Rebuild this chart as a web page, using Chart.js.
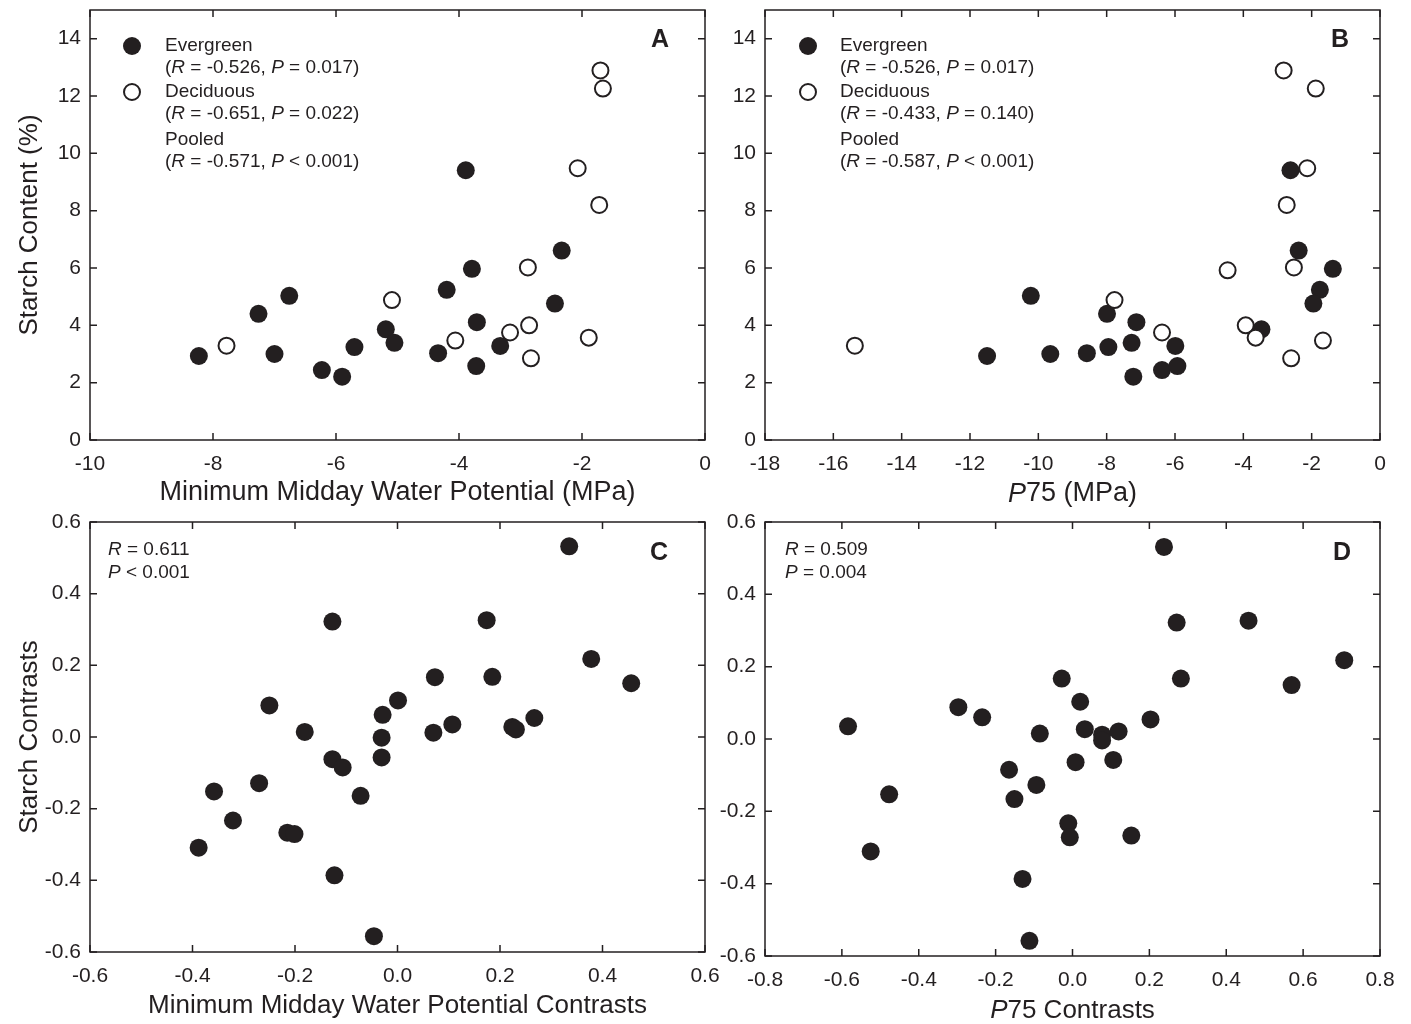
<!DOCTYPE html>
<html>
<head>
<meta charset="utf-8">
<script src="https://cdn.jsdelivr.net/npm/chart.js@4.4.0/dist/chart.umd.min.js"></script>
<style>
  body { margin: 0; background: #fff; }
  #wrap { position: relative; width: 1411px; height: 1024px; }
  #wrap canvas { position: absolute; left: 0; top: 0; }
</style>
</head>
<body>
<div id="wrap">
  <canvas id="panelA" width="1411" height="1024"></canvas>
  <canvas id="panelB" width="1411" height="1024"></canvas>
  <canvas id="panelC" width="1411" height="1024"></canvas>
  <canvas id="panelD" width="1411" height="1024"></canvas>
</div>
<script>
// species values (evergreen arrays line up species by species)
const evMinPsi = [-8.23, -7.26, -6.76, -7.00, -6.23, -5.90, -5.70, -5.19, -5.05, -4.34, -4.20, -3.89, -3.79, -3.71, -3.72, -3.33, -2.44, -2.33];
const evP75 = [-11.50, -7.99, -10.22, -9.65, -6.38, -7.22, -7.95, -3.47, -7.27, -8.58, -1.76, -2.62, -1.38, -7.13, -5.93, -5.99, -1.95, -2.38];
const evStarch = [2.93, 4.40, 5.03, 3.00, 2.44, 2.21, 3.24, 3.86, 3.39, 3.03, 5.24, 9.41, 5.97, 4.11, 2.58, 3.28, 4.76, 6.61];

const dcMinPsi = [-7.78, -5.09, -4.06, -3.17, -2.88, -2.86, -2.83, -2.07, -1.89, -1.72, -1.70, -1.66];
const dcStarchA = [3.29, 4.88, 3.47, 3.75, 6.02, 4.00, 2.85, 9.48, 3.57, 8.20, 12.89, 12.26];
const dcP75 = [-15.37, -7.77, -1.67, -6.38, -2.52, -3.93, -2.60, -2.13, -3.64, -2.73, -2.82, -1.88, -4.46];
const dcStarchB = [3.29, 4.88, 3.47, 3.75, 6.02, 4.00, 2.85, 9.48, 3.57, 8.20, 12.89, 12.26, 5.92];

// independent contrasts
const psiContrast = [-0.388, -0.358, -0.321, -0.270, -0.250, -0.215, -0.201, -0.181, -0.127, -0.127, -0.107, -0.123, -0.072, -0.046, -0.029, -0.031, -0.031, 0.001, 0.070, 0.073, 0.107, 0.174, 0.185, 0.224, 0.231, 0.267, 0.335, 0.378, 0.456];
const starchContrastC = [-0.309, -0.152, -0.233, -0.129, 0.088, -0.267, -0.271, 0.014, -0.062, 0.322, -0.085, -0.386, -0.164, -0.556, 0.062, -0.002, -0.057, 0.102, 0.012, 0.167, 0.035, 0.326, 0.168, 0.028, 0.021, 0.053, 0.532, 0.218, 0.150];
const p75Contrast = [-0.584, -0.477, -0.525, -0.297, -0.235, -0.165, -0.151, -0.085, -0.094, -0.130, -0.112, -0.028, 0.020, 0.032, 0.008, -0.011, -0.007, 0.077, 0.077, 0.120, 0.106, 0.153, 0.203, 0.238, 0.271, 0.282, 0.458, 0.570, 0.707];
const starchContrastD = [0.035, -0.153, -0.311, 0.088, 0.060, -0.085, -0.166, 0.015, -0.127, -0.387, -0.558, 0.167, 0.103, 0.027, -0.064, -0.233, -0.272, 0.012, -0.004, 0.021, -0.058, -0.267, 0.054, 0.531, 0.322, 0.167, 0.327, 0.149, 0.218];

// tick values
const psiTicks = [-10, -8, -6, -4, -2, 0];
const p75Ticks = [-18, -16, -14, -12, -10, -8, -6, -4, -2, 0];
const starchTicks = [0, 2, 4, 6, 8, 10, 12, 14];
const psiContrastTicks = [-0.6, -0.4, -0.2, 0.0, 0.2, 0.4, 0.6];
const p75ContrastTicks = [-0.8, -0.6, -0.4, -0.2, 0.0, 0.2, 0.4, 0.6, 0.8];
const contrastTicks = [-0.6, -0.4, -0.2, 0.0, 0.2, 0.4, 0.6];

const INK = '#231f20';
const FONT = '"Liberation Sans", Arial, sans-serif';
const TICK = 7;

Chart.defaults.font.family = FONT;
Chart.defaults.color = INK;

function pts(xs, ys) {
    return xs.map((v, i) => ({ x: v, y: ys[i] }));
}

function filled(data) {
    return { data: data, pointRadius: 9, pointBackgroundColor: INK, pointBorderColor: INK, pointBorderWidth: 0, order: 1 };
}

function hollow(data) {
    return { data: data, pointRadius: 8, pointBackgroundColor: '#fff', pointBorderColor: INK, pointBorderWidth: 2, order: 0 };
}

// draws pieces of text, some in italics, starting at x (or centred on it)
function rich(ctx, x, y, parts, size, align) {
    ctx.textBaseline = 'middle';
    ctx.textAlign = 'left';
    let total = 0;
    parts.forEach(p => {
        ctx.font = (p[1] ? 'italic ' : '') + size + 'px ' + FONT;
        total += ctx.measureText(p[0]).width;
    });
    let cx = align === 'center' ? x - total / 2 : x;
    parts.forEach(p => {
        ctx.font = (p[1] ? 'italic ' : '') + size + 'px ' + FONT;
        ctx.fillText(p[0], cx, y);
        cx += ctx.measureText(p[0]).width;
    });
}

function letter(ctx, txt, x, y) {
    ctx.font = 'bold 25px "Liberation Sans Narrow", ' + FONT;
    ctx.textAlign = 'center';
    ctx.textBaseline = 'middle';
    ctx.fillText(txt, x, y);
}

function legend(ctx, mx, tx, stats) {
    ctx.save();
    ctx.fillStyle = INK;
    ctx.strokeStyle = INK;
    ctx.beginPath();
    ctx.arc(mx, 46, 9, 0, Math.PI * 2);
    ctx.fill();
    ctx.lineWidth = 2;
    ctx.beginPath();
    ctx.arc(mx, 92, 8, 0, Math.PI * 2);
    ctx.stroke();
    const lines = [
        [46, 'Evergreen', null], [68, null, stats[0]],
        [92, 'Deciduous', null], [114, null, stats[1]],
        [140, 'Pooled', null], [162, null, stats[2]]
    ];
    lines.forEach(l => {
        if (l[1]) rich(ctx, tx, l[0], [[l[1], false]], 19);
        else rich(ctx, tx, l[0], [['(', false], ['R', true], [' = ' + l[2][0] + ', ', false], ['P', true], [l[2][1] + ')', false]], 19);
    });
    ctx.restore();
}

const framePlugin = {
    id: 'frame',
    afterDraw(chart) {
        const { ctx, chartArea, scales } = chart;
        const { left, right, top, bottom } = chartArea;
        ctx.save();
        ctx.strokeStyle = INK;
        ctx.lineWidth = 1.5;
        ctx.strokeRect(left, top, right - left, bottom - top);
        ctx.beginPath();
        scales.x.ticks.forEach(t => {
            const px = scales.x.getPixelForValue(t.value);
            ctx.moveTo(px, bottom); ctx.lineTo(px, bottom - TICK);
            ctx.moveTo(px, top); ctx.lineTo(px, top + TICK);
        });
        scales.y.ticks.forEach(t => {
            const py = scales.y.getPixelForValue(t.value);
            ctx.moveTo(left, py); ctx.lineTo(left + TICK, py);
            ctx.moveTo(right, py); ctx.lineTo(right - TICK, py);
        });
        ctx.stroke();
        ctx.restore();
    }
};

function axis(min, max, ticks, fit, fmt, title, horizontal, titleSize) {
    return {
        type: 'linear',
        min: min,
        max: max,
        afterBuildTicks: s => { s.ticks = ticks.map(v => ({ value: v })); },
        afterFit: s => {
            if (horizontal) s.height = fit; else s.width = fit;
            // labels overhanging the ends should not push the plot area
            s.paddingTop = 0; s.paddingBottom = 0; s.paddingLeft = 0; s.paddingRight = 0;
        },
        grid: { display: false, drawTicks: false },
        border: { display: false },
        ticks: {
            font: { size: 21 },
            color: INK,
            padding: horizontal ? 12 : 9,
            autoSkip: false,
            maxRotation: 0,
            callback: fmt
        },
        title: {
            display: !!title,
            text: title || '',
            font: { size: titleSize || 26 },
            color: INK,
            padding: 0
        }
    };
}

const asInt = v => String(v);
const asDec = v => v.toFixed(1);

function makePanel(id, datasets, padding, xAxis, yAxis, draw) {
    return new Chart(document.getElementById(id), {
        type: 'scatter',
        data: { datasets: datasets },
        options: {
            responsive: false,
            animation: false,
            devicePixelRatio: 1,
            events: [],
            layout: { padding: padding },
            plugins: { legend: { display: false }, tooltip: { enabled: false } },
            scales: { x: xAxis, y: yAxis }
        },
        plugins: [framePlugin, { id: 'notes', afterDraw: chart => { chart.ctx.save(); chart.ctx.fillStyle = INK; draw(chart.ctx, chart); chart.ctx.restore(); } }]
    });
}

// A
makePanel('panelA',
    [filled(pts(evMinPsi, evStarch)), hollow(pts(dcMinPsi, dcStarchA))],
    { left: 14, top: 10, right: 1411 - 705, bottom: 515 },
    axis(-10, 0, psiTicks, 509 - 440, asInt, 'Minimum Midday Water Potential (MPa)', true, 27),
    axis(0, 15, starchTicks, 90 - 14, asInt, 'Starch Content (%)', false),
    ctx => {
        legend(ctx, 132, 165, [['-0.526', ' = 0.017'], ['-0.651', ' = 0.022'], ['-0.571', ' < 0.001']]);
        letter(ctx, 'A', 660, 40);
    });

// B
makePanel('panelB',
    [filled(pts(evP75, evStarch)), hollow(pts(dcP75, dcStarchB))],
    { left: 720, top: 10, right: 1411 - 1380, bottom: 515 },
    axis(-18, 0, p75Ticks, 509 - 440, asInt, null, true),
    axis(0, 15, starchTicks, 765 - 720, asInt, null, false),
    (ctx, chart) => {
        legend(ctx, 808, 840, [['-0.526', ' = 0.017'], ['-0.433', ' = 0.140'], ['-0.587', ' < 0.001']]);
        letter(ctx, 'B', 1340, 40);
        const a = chart.chartArea;
        rich(ctx, (a.left + a.right) / 2, 494, [['P', true], ['75 (MPa)', false]], 27, 'center');
    });

// C
makePanel('panelC',
    [filled(pts(psiContrast, starchContrastC))],
    { left: 14, top: 522, right: 1411 - 705, bottom: 3 },
    axis(-0.6, 0.6, psiContrastTicks, 1021 - 952, asDec, 'Minimum Midday Water Potential Contrasts', true),
    axis(-0.6, 0.6, contrastTicks, 90 - 14, asDec, 'Starch Contrasts', false),
    ctx => {
        rich(ctx, 108, 550, [['R', true], [' = 0.611', false]], 19);
        rich(ctx, 108, 573, [['P', true], [' < 0.001', false]], 19);
        letter(ctx, 'C', 659, 553);
    });

// D
makePanel('panelD',
    [filled(pts(p75Contrast, starchContrastD))],
    { left: 720, top: 522, right: 1411 - 1380, bottom: 3 },
    axis(-0.8, 0.8, p75ContrastTicks, 1021 - 956, asDec, null, true),
    axis(-0.6, 0.6, contrastTicks, 765 - 720, asDec, null, false),
    (ctx, chart) => {
        rich(ctx, 785, 550, [['R', true], [' = 0.509', false]], 19);
        rich(ctx, 785, 573, [['P', true], [' = 0.004', false]], 19);
        letter(ctx, 'D', 1342, 553);
        const a = chart.chartArea;
        rich(ctx, (a.left + a.right) / 2, 1011, [['P', true], ['75 Contrasts', false]], 26, 'center');
    });
</script>
</body>
</html>
